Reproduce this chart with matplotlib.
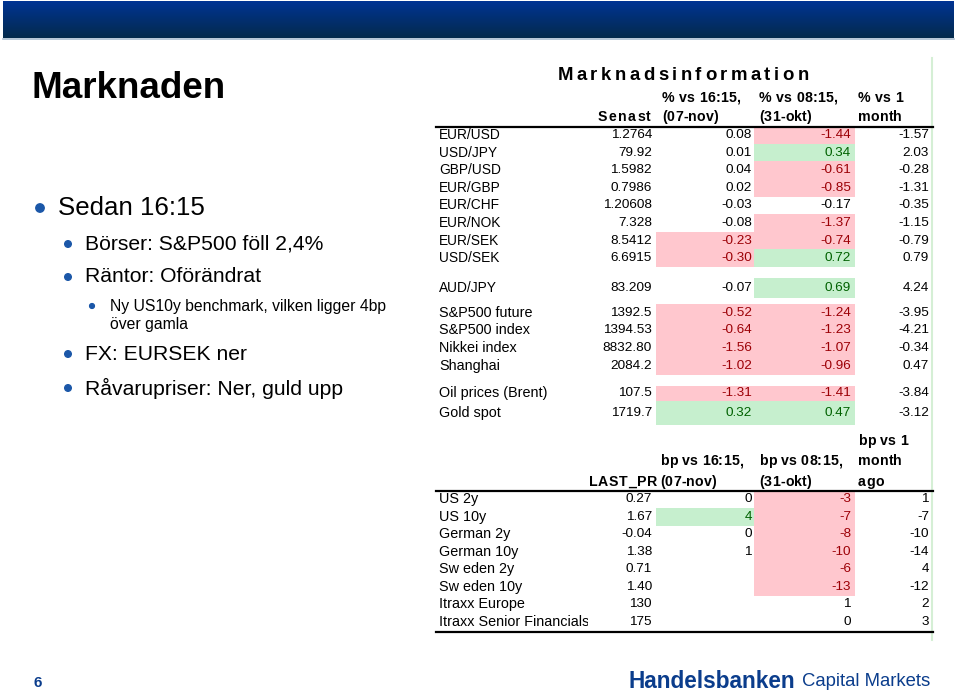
import numpy as np
import matplotlib
matplotlib.use("Agg")
import matplotlib.pyplot as plt
from matplotlib.patches import Rectangle, Circle
from matplotlib.transforms import Bbox

# ---------------- data ----------------
slide_title = "Marknaden"
bullets = [
    (1, "Sedan 16:15"),
    (2, "Börser: S&P500 föll 2,4%"),
    (2, "Räntor: Oförändrat"),
    (3, "Ny US10y benchmark, vilken ligger 4bp\növer gamla"),
    (2, "FX: EURSEK ner"),
    (2, "Råvarupriser: Ner, guld upp"),
]

table1_title = "Marknadsinformation"
t1_headers = ["Senast", "% vs 16:15,\n(07-nov)", "% vs 08:15,\n(31-okt)", "% vs 1\nmonth"]
fx_labels = ["EUR/USD", "USD/JPY", "GBP/USD", "EUR/GBP", "EUR/CHF", "EUR/NOK", "EUR/SEK",
             "USD/SEK", "AUD/JPY", "S&P500 future", "S&P500 index", "Nikkei index",
             "Shanghai", "Oil prices (Brent)", "Gold spot"]
senast = [1.2764, 79.92, 1.5982, 0.7986, 1.20608, 7.328, 8.5412, 6.6915, 83.209,
          1392.5, 1394.53, 8832.80, 2084.2, 107.5, 1719.7]
senast_decimals = [4, 2, 4, 4, 5, 3, 4, 4, 3, 1, 2, 2, 1, 1, 1]
pct_vs_1615 = [0.08, 0.01, 0.04, 0.02, -0.03, -0.08, -0.23, -0.30, -0.07,
               -0.52, -0.64, -1.56, -1.02, -1.31, 0.32]
pct_vs_0815 = [-1.44, 0.34, -0.61, -0.85, -0.17, -1.37, -0.74, 0.72, 0.69,
               -1.24, -1.23, -1.07, -0.96, -1.41, 0.47]
pct_vs_1m = [-1.57, 2.03, -0.28, -1.31, -0.35, -1.15, -0.79, 0.79, 4.24,
             -3.95, -4.21, -0.34, 0.47, -3.84, -3.12]

t2_headers = ["LAST_PR", "bp vs 16:15,\n(07-nov)", "bp vs 08:15,\n(31-okt)", "bp vs 1\nmonth\nago"]
rate_labels = ["US 2y", "US 10y", "German 2y", "German 10y", "Sw eden 2y", "Sw eden 10y",
               "Itraxx Europe", "Itraxx Senior Financials"]
last_pr = [0.27, 1.67, -0.04, 1.38, 0.71, 1.40, 130, 175]
last_pr_decimals = [2, 2, 2, 2, 2, 2, 0, 0]
bp_vs_1615 = [0, 4, 0, 1, None, None, None, None]
bp_vs_0815 = [-3, -7, -8, -10, -6, -13, 1, 0]
bp_vs_1m = [1, -7, -10, -14, 4, -12, 2, 3]

page_number = "6"
brand_bold = "Handelsbanken"
brand_light = "Capital Markets"

# ---------------- style / layout ----------------
PINK, GREEN = "#ffc7ce", "#c6efce"
RED_T, GREEN_T = "#9c0006", "#006100"
BLUE = "#0b3d8c"
BULLET_BLUE = "#1b57a8"
FONT = "Liberation Sans"
W, H = 960, 696

fig = plt.figure(figsize=(9.6, 6.96), dpi=100)
ax = fig.add_axes([0, 0, 1, 1])
ax.set_xlim(0, W)
ax.set_ylim(H, 0)
ax.axis("off")
renderer = fig.canvas.get_renderer()


def text_width(s, **kw):
    t = ax.text(0, 0, s, **kw)
    w = t.get_window_extent(renderer).width
    t.remove()
    return w


def char_w(c, **kw):
    if c == " ":
        return text_width("x x", **kw) - text_width("xx", **kw)
    return text_width(c, **kw)


def spaced(x, y, s, spacing, ha="left", **kw):
    ws = [char_w(c, **kw) for c in s]
    total = sum(ws) + spacing * (len(s) - 1)
    if ha == "right":
        x0 = x - total
    elif ha == "center":
        x0 = x - total / 2
    else:
        x0 = x
    cx = x0
    for c, w in zip(s, ws):
        if c != " ":
            ax.text(cx, y, c, ha="left", va="center", **kw)
        cx += w + spacing


# header bar gradient
grad = np.linspace(0, 1, 64).reshape(-1, 1)
top_c = np.array([0x00, 0x34, 0x94]) / 255
bot_c = np.array([0x04, 0x2a, 0x4c]) / 255
img = top_c[None, None, :] * (1 - grad[..., None]) + bot_c[None, None, :] * grad[..., None]
img = np.repeat(img, 2, axis=1)
ax.imshow(img, extent=[3, 954, 38, 1], aspect="auto", zorder=1)
ax.plot([3, 954], [39, 39], color="#a9bccf", lw=1.2, zorder=2)

# slide title
ax.text(32, 89, slide_title, fontsize=26.5, fontweight="bold", family=FONT,
        ha="left", va="center", color="black")

# bullets
bullet_y = [208, 244, 277, 315, 354, 388]
level_x = {1: (40, 58, 18.6, 4.2), 2: (68, 85, 15.2, 3.3), 3: (92, 110, 11.3, 2.4)}
for (lvl, txt), y in zip(bullets, bullet_y):
    bx, tx, fs, r = level_x[lvl]
    lines = txt.split("\n")
    if len(lines) == 1:
        ax.text(tx, y, txt, fontsize=fs, family=FONT, ha="left", va="center", color="black")
        ax.add_patch(Circle((bx, y), r, color=BULLET_BLUE, zorder=3))
    else:
        y0 = y - 9
        for k, ln in enumerate(lines):
            ax.text(tx, y0 + 18 * k, ln, fontsize=fs, family=FONT, ha="left",
                    va="center", color="black")
        ax.add_patch(Circle((bx, y0), r, color=BULLET_BLUE, zorder=3))

# faint right line
ax.plot([932, 932], [58, 640], color="#d5efd5", lw=1.5, zorder=1)

# ---------------- table 1 ----------------
spaced(683, 76, table1_title, 3.5, ha="center", fontsize=13.4, fontweight="bold",
       family=FONT, color="black")

LBL_X = 439
col_right = [652, 752, 851, 929]
col_left_hdr = [None, 662, 759, 858]
cell_x = [(656, 754), (754, 855)]
DFS = 9.7
LFS = 10.4
HFS = 10.2
hdr_kw = dict(fontsize=HFS, fontweight="bold", family=FONT, color="black")

# headers
spaced(651, 117, t1_headers[0], 1.4, ha="right", **hdr_kw)
for j in range(1, 4):
    for k, ln in enumerate(t1_headers[j].split("\n")):
        spaced(col_left_hdr[j], 98 + 19 * k, ln, 0.2, ha="left", **hdr_kw)
ax.plot([436, 933], [127, 127], color="black", lw=1.6)

t1_y = [135, 153, 170, 188, 205, 223, 241, 258, 288, 313, 330, 348, 366, 393, 413]
t1_h = [17.6] * 8 + [20] + [17.8] * 4 + [15, 24]


def cell_color(v, thr):
    if v is None:
        return None, "black"
    if v <= -thr:
        return PINK, RED_T
    if v >= thr:
        return GREEN, GREEN_T
    return None, "black"


for i, lab in enumerate(fx_labels):
    y, h = t1_y[i], t1_h[i]
    lfs = DFS + 0.2 if "/" in lab else LFS
    ax.text(LBL_X, y, lab, fontsize=lfs, family=FONT, ha="left", va="center")
    ax.text(col_right[0], y, f"{senast[i]:.{senast_decimals[i]}f}", fontsize=DFS,
            family=FONT, ha="right", va="center")
    for j, (vals, thr) in enumerate([(pct_vs_1615, 0.2), (pct_vs_0815, 0.2)]):
        v = vals[i]
        fc, tc = cell_color(v, thr)
        if fc:
            x0, x1 = cell_x[j]
            ax.add_patch(Rectangle((x0, y - h / 2), x1 - x0, h, color=fc, lw=0, zorder=0.5))
        ax.text(col_right[j + 1], y, f"{v:.2f}", fontsize=DFS, family=FONT,
                ha="right", va="center", color=tc)
    ax.text(col_right[3], y, f"{pct_vs_1m[i]:.2f}", fontsize=DFS, family=FONT,
            ha="right", va="center")

# ---------------- table 2 ----------------
spaced(657, 482, t2_headers[0], 0.6, ha="right", **hdr_kw)
hdr2_rows = {1: [461, 482], 2: [461, 482], 3: [441, 461, 482]}
hdr2_left = [None, 660, 759, 858]
for j in range(1, 4):
    for k, ln in enumerate(t2_headers[j].split("\n")):
        spaced(hdr2_left[j], hdr2_rows[j][k], ln, 0.2, ha="left", **hdr_kw)
ax.plot([436, 933], [491, 491], color="black", lw=1.6)

t2_y = [499, 517, 534, 552, 569, 587, 604, 622]
T2H = 17.7
# label column clip box in display pixels (y measured from bottom)
clip_bb = Bbox([[436, H - 640], [588, H - 480]])
for i, lab in enumerate(rate_labels):
    y = t2_y[i]
    t = ax.text(LBL_X, y, lab, fontsize=LFS, family=FONT, ha="left", va="center")
    t.set_clip_path(None)
    t.set_clip_box(clip_bb)
    t.set_clip_on(True)
    ax.text(col_right[0], y, f"{last_pr[i]:.{last_pr_decimals[i]}f}", fontsize=DFS,
            family=FONT, ha="right", va="center")
    for j, (vals, thr) in enumerate([(bp_vs_1615, 2), (bp_vs_0815, 2)]):
        v = vals[i]
        fc, tc = cell_color(v, thr)
        if fc:
            x0, x1 = cell_x[j]
            ax.add_patch(Rectangle((x0, y - T2H / 2), x1 - x0, T2H, color=fc, lw=0, zorder=0.5))
        if v is not None:
            ax.text(col_right[j + 1], y, f"{v:d}", fontsize=DFS, family=FONT,
                    ha="right", va="center", color=tc)
    ax.text(col_right[3], y, f"{bp_vs_1m[i]:d}", fontsize=DFS, family=FONT,
            ha="right", va="center")
ax.plot([436, 933], [632, 632], color="black", lw=1.6)

# ---------------- footer ----------------
ax.text(33, 683, page_number, fontsize=11, fontweight="bold", family=FONT,
        color=BLUE, ha="left", va="center")
ax.text(628, 681, brand_bold, fontsize=16.3, fontweight="bold", family=FONT,
        color=BLUE, ha="left", va="center")
ax.text(930, 682, brand_light, fontsize=13.3, family=FONT,
        color=BLUE, ha="right", va="center")

fig.savefig("out.png", dpi=100)
